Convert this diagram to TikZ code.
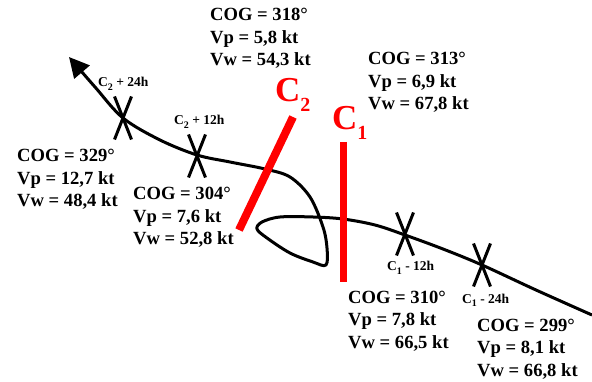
\documentclass[tikz,border=0pt]{standalone}
\usepackage{fontspec}
\setmainfont{Liberation Serif}
\usetikzlibrary{arrows.meta}
\newcommand{\cogblock}[5]{%
  \node[info] (#1a) at (#2,#3) {COG = #4°};
  \node[info] (#1b) at (#2,#3+22.5) {Vp = #5 kt};
}
\newcommand{\vwline}[4]{%
  \node[info] (#1c) at (#2,#3+45) {Vw = #4 kt};
}
\newcommand{\subsm}[1]{\raisebox{-3.5pt}{\fontsize{10}{10}\selectfont #1}}
\newcommand{\subbig}[1]{\raisebox{-10pt}{\fontsize{20}{20}\selectfont #1}}
\begin{document}
\begin{tikzpicture}[x=1pt,y=-1pt,
  info/.style={anchor=base west,inner sep=0pt,font=\fontsize{18.6}{18.6}\selectfont\bfseries},
  tick/.style={anchor=base west,inner sep=0pt,font=\fontsize{13.5}{13.5}\selectfont\bfseries},
  big/.style={anchor=base west,inner sep=0pt,text=red,font=\fontsize{35}{35}\selectfont\bfseries},
  track/.style={line width=3pt,line join=round},
  cross/.style={line width=3pt},
  front/.style={red,line width=8pt},
  xmark/.pic={\draw[cross] (-8.5,-21.5) -- (8.5,21.5) (8.5,-21.5) -- (-8.5,21.5);}]
\useasboundingbox (0,0) rectangle (592,382);
% track
\draw[track,-{Triangle[length=20pt,width=20pt]}] plot[smooth,tension=0.55] coordinates {
 (592,315) (536,290) (482,265) (443,249) (405,235) (375,225) (343,219) (313,217)
 (280,217) (262,222) (257,229) (267,238) (290,253) (313,262) (326,265) (327,248)
 (323,227) (310,197) (290,177) (265,169) (230,162) (197,155) (160,140) (123,118)
 (95,87) (69,57)};
% crosses
\pic at (123,118) {xmark};
\pic at (197,156) {xmark};
\pic at (405,234) {xmark};
\pic at (482,265) {xmark};
% fronts
\draw[front] (293,117) -- (239,230);
\draw[red,line width=7pt] (343,142) -- (343,282);
% big labels
\node[big] (c2) at (275,102) {C\subbig{2}};
\node[big] (c1) at (332,130) {C\subbig{1}};
% tick labels
\node[tick] (t1) at (98,87) {C\subsm{2} + 24h};
\node[tick] (t2) at (174,125) {C\subsm{2} + 12h};
\node[tick] (t3) at (387,271) {C\subsm{1} - 12h};
\node[tick] (t4) at (462,303) {C\subsm{1} - 24h};
% info blocks
\cogblock{b318}{210}{21}{318}{5,8}  \vwline{b318}{210}{21}{54,3}
\cogblock{b313}{368}{65}{313}{6,9}  \vwline{b313}{368}{65}{67,8}
\cogblock{b329}{17}{162}{329}{12,7} \vwline{b329}{17}{162}{48,4}
\cogblock{b304}{133}{200}{304}{7,6} \vwline{b304}{133}{200}{52,8}
\cogblock{b310}{348}{303}{310}{7,8} \vwline{b310}{348}{303}{66,5}
\cogblock{b299}{477}{331}{299}{8,1} \vwline{b299}{477}{331}{66,8}
\end{tikzpicture}
\end{document}
